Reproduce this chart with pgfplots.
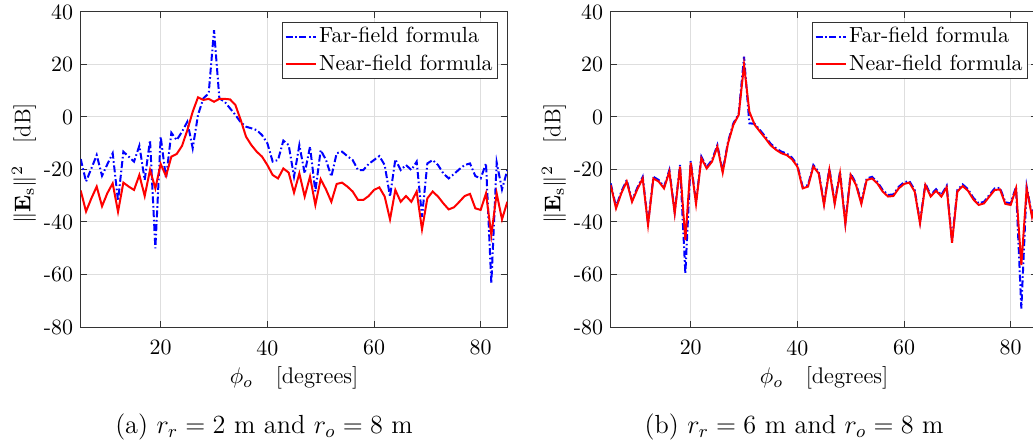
\RequirePackage{fix-cm}
\documentclass[border=0pt]{standalone}
\usepackage{pgfplots}
\pgfplotsset{compat=1.18}
\pgfplotsset{
  myax/.style={
    scale only axis, width=213.33pt, height=157.5pt,
    xmin=5, xmax=85, ymin=-80, ymax=40,
    xtick={20,40,60,80}, ytick={-80,-60,...,40},
    grid=major, major grid style={draw=black!13, line width=0.5pt},
    axis line style={draw=black!80, line width=0.5pt},
    tick style={draw=black!80, line width=0.5pt},
    major tick length=3pt, tick align=inside,
    /pgf/number format/assume math mode=true,
    every tick label/.append style={font=\fontsize{10.95}{13}\selectfont},
    xticklabel style={yshift=-2.8pt},
    label style={font=\fontsize{11.3}{13}\selectfont},
    xlabel={$\phi_o$\quad[degrees]},
    ylabel={$\|\mathbf{E}_\mathrm{s}\|^2$\quad[dB]},
    xlabel style={at={(axis description cs:0.5,-0.1619)}, anchor=center},
    ylabel style={at={(axis description cs:-0.1329,0.5197)}, anchor=center},
    legend style={draw=black!80, line width=0.5pt, fill=white,
      at={(0.9773,0.9692)}, anchor=north east,
      inner xsep=1pt, inner ysep=1pt, row sep=1.5pt,
      font=\fontsize{10.95}{13}\selectfont,
      nodes={inner xsep=1.25pt, inner ysep=1.5pt}},
    legend cell align=left,
    legend image code/.code={\draw[##1] (0pt,0pt) -- (15pt,0pt);},
  },
  farf/.style={blue, line width=1pt, dash pattern=on 3.5pt off 1.3pt on 0.8pt off 1.3pt},
  nearf/.style={red, line width=1pt},
}
\begin{document}
\fontsize{10.95}{13}\selectfont
\begin{tikzpicture}
\begin{axis}[myax, at={(0pt,0pt)}, anchor=south west]
\addplot[farf] coordinates {
(5,-16) (6,-24.6) (7,-19.6) (8,-14.5) (9,-22.4) (10,-18) (11,-13.8) (12,-32)
(13,-13.2) (14,-15.1) (15,-17) (16,-10.9) (17,-24) (18,-8.8) (19,-50) (20,-7.5)
(21,-23.4) (22,-6) (23,-8.8) (24,-5.6) (25,-1.8) (26,-11.9) (27,0.8) (28,7.1)
(29,9) (30,33.1) (31,7.1) (32,5.8) (33,3.3) (34,0.8) (35,-2) (36,-3.7)
(37,-4.3) (38,-5) (39,-6.9) (40,-10) (41,-17) (42,-16.4) (43,-9) (44,-10.7)
(45,-22.7) (46,-10.7) (47,-21.5) (48,-11.3) (49,-28.4) (50,-12.6) (51,-16.4) (52,-22.7)
(53,-13.8) (54,-13.2) (55,-14.9) (56,-16.4) (57,-20.2) (58,-20.2) (59,-17.9) (60,-16.4)
(61,-14.9) (62,-18.3) (63,-30.3) (64,-16.1) (65,-20.2) (66,-18.3) (67,-20.2) (68,-17)
(69,-38) (70,-17.7) (71,-16.4) (72,-18.3) (73,-21.5) (74,-23.4) (75,-21.7) (76,-19.9)
(77,-18.3) (78,-17.7) (79,-22.5) (80,-23.4) (81,-17.7) (82,-63.4) (83,-17.3) (84,-27.6)
(85,-20.2)
};
\addlegendentry{Far-field formula}
\addplot[nearf] coordinates {
(5,-28) (6,-36) (7,-31) (8,-26.5) (9,-34) (10,-29) (11,-25.3) (12,-36.1)
(13,-25) (14,-26.5) (15,-27.8) (16,-22.1) (17,-30.1) (18,-20.2) (19,-27.2) (20,-17.9)
(21,-22.5) (22,-15.1) (23,-14.1) (24,-11) (25,-5) (26,2) (27,7.5) (28,6.5)
(29,6.9) (30,5.8) (31,6.9) (32,6.9) (33,6.7) (34,4.6) (35,-1.1) (36,-7.5)
(37,-10.7) (38,-13.2) (39,-15.1) (40,-18.3) (41,-22.1) (42,-23.4) (43,-19.6) (44,-21.2)
(45,-28.8) (46,-21.5) (47,-30.3) (48,-22.7) (49,-33.5) (50,-23.7) (51,-27.6) (52,-32.3)
(53,-25.5) (54,-25) (55,-26.5) (56,-28.4) (57,-31.6) (58,-31.6) (59,-30.1) (60,-27.8)
(61,-26.8) (62,-30.3) (63,-39) (64,-27.8) (65,-32.3) (66,-30.1) (67,-32.3) (68,-28.4)
(69,-42.8) (70,-31) (71,-28.4) (72,-30.3) (73,-32.9) (74,-35.2) (75,-34.4) (76,-32.3)
(77,-30.1) (78,-29.3) (79,-34.8) (80,-35.4) (81,-29.1) (82,-45) (83,-29.1) (84,-39)
(85,-32.3)
};
\addlegendentry{Near-field formula}
\end{axis}
\begin{axis}[myax, at={(265pt,0pt)}, anchor=south west]
\addplot[farf] coordinates {
(5,-25.3) (6,-34.2) (7,-28.4) (8,-24) (9,-31.7) (10,-26.9) (11,-22.8) (12,-40.5)
(13,-22.8) (14,-24) (15,-26.6) (16,-20.2) (17,-36.1) (18,-18.3) (19,-59.6) (20,-16.8)
(21,-32.5) (22,-15.1) (23,-19) (24,-16.4) (25,-10.7) (26,-20.6) (27,-9.4) (28,-2.4)
(29,1.2) (30,23) (31,-2.4) (32,-2.6) (33,-5) (34,-7.5) (35,-10.2) (36,-11.9)
(37,-13.2) (38,-13.9) (39,-15.5) (40,-18.3) (41,-26.6) (42,-25.9) (43,-18.3) (44,-20.9)
(45,-32.9) (46,-19.6) (47,-32.5) (48,-20.9) (49,-40.2) (50,-21.5) (51,-25.3) (52,-32.5)
(53,-23.4) (54,-22.8) (55,-24.7) (56,-27.8) (57,-29.7) (58,-29.5) (59,-26.6) (60,-24.9)
(61,-24.4) (62,-27.8) (63,-39.9) (64,-25.3) (65,-29.7) (66,-27.5) (67,-29.7) (68,-26.2)
(69,-47.3) (70,-27.8) (71,-25.7) (72,-27.5) (73,-30.8) (74,-32.9) (75,-32.3) (76,-29.7)
(77,-27.2) (78,-27) (79,-32.5) (80,-32.9) (81,-26.6) (82,-73) (83,-26.6) (84,-37.4)
(85,-29.4)
};
\addlegendentry{Far-field formula}
\addplot[nearf] coordinates {
(5,-25.9) (6,-34.8) (7,-29) (8,-24.6) (9,-32.3) (10,-27.5) (11,-23.4) (12,-41.1)
(13,-23.4) (14,-24.6) (15,-27.2) (16,-20.8) (17,-36.7) (18,-18.9) (19,-46.9) (20,-17.4)
(21,-33.1) (22,-15.7) (23,-19.6) (24,-17) (25,-11.3) (26,-21.2) (27,-10) (28,-3)
(29,0.8) (30,19.8) (31,2) (32,-3) (33,-5.6) (34,-8.1) (35,-10.8) (36,-12.5)
(37,-13.8) (38,-14.5) (39,-16.1) (40,-18.9) (41,-27.2) (42,-26.5) (43,-18.9) (44,-21.5)
(45,-33.5) (46,-20.2) (47,-33.1) (48,-21.5) (49,-40.8) (50,-22.1) (51,-25.9) (52,-33.1)
(53,-24) (54,-23.4) (55,-25.3) (56,-28.4) (57,-30.3) (58,-30.1) (59,-27.2) (60,-25.5)
(61,-25) (62,-28.4) (63,-40.5) (64,-25.9) (65,-30.3) (66,-28.1) (67,-30.3) (68,-26.8)
(69,-47.9) (70,-28.4) (71,-26.3) (72,-28.1) (73,-31.4) (74,-33.5) (75,-32.9) (76,-30.3)
(77,-27.8) (78,-27.6) (79,-33.1) (80,-33.5) (81,-27.2) (82,-56.4) (83,-27.2) (84,-38)
(85,-30)
};
\addlegendentry{Near-field formula}
\end{axis}
\node[font=\fontsize{13.1}{15}\selectfont] at (91.67pt,-49.85pt) {(a) $r_r = 2$ m and $r_o = 8$ m};
\node[font=\fontsize{13.1}{15}\selectfont] at (356.67pt,-49.85pt) {(b) $r_r = 6$ m and $r_o = 8$ m};
\pgfresetboundingbox
\path[use as bounding box] (-40.35pt,-59pt) rectangle (476.15pt,163.5pt);
\end{tikzpicture}
\end{document}
